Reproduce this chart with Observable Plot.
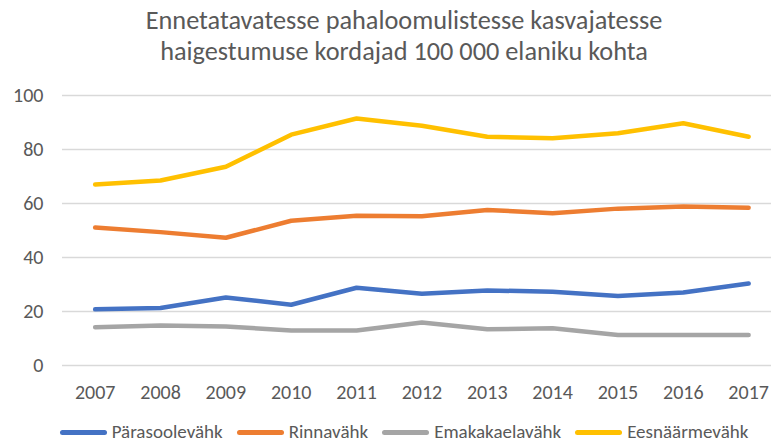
<!DOCTYPE html>
<html>
<head>
<meta charset="utf-8">
<script src="https://cdn.jsdelivr.net/npm/d3@7"></script>
<script src="https://cdn.jsdelivr.net/npm/@observablehq/plot@0.6"></script>
<style>
  html, body { margin: 0; padding: 0; background: #fff; }
  body { width: 771px; height: 445px; overflow: hidden; font-family: Carlito, Calibri, "Liberation Sans Narrow", "Open Sans", sans-serif; color: #595959; }
  #title { box-sizing: border-box; width: 771px; height: 70px; padding: 5px 0 0 37px; text-align: center; font-size: 26.3px; line-height: 31px; }
  #legend { box-sizing: border-box; width: 771px; height: 18px; margin-top: 3px; padding-left: 37px; display: flex; justify-content: center; align-items: center; font-size: 19px; line-height: 18px; }
  .item { display: flex; align-items: center; margin: 0 7px; }
  .sw { width: 47px; height: 5px; border-radius: 3px; margin-right: 5px; }
  svg { display: block; }
</style>
</head>
<body>
<div id="title">Ennetatavatesse pahaloomulistesse kasvajatesse<br>haigestumuse kordajad 100 000 elaniku kohta</div>
<div id="chart"></div>
<div id="legend"></div>
<script>
const years = [2007, 2008, 2009, 2010, 2011, 2012, 2013, 2014, 2015, 2016, 2017];
const parasoolevahk = [20.8, 21.3, 25.2, 22.5, 28.8, 26.6, 27.8, 27.3, 25.7, 27.0, 30.4];
const rinnavahk = [51.1, 49.4, 47.3, 53.6, 55.5, 55.3, 57.6, 56.4, 58.1, 58.9, 58.4];
const emakakaelavahk = [14.2, 14.8, 14.4, 13.0, 13.0, 15.9, 13.4, 13.8, 11.3, 11.3, 11.3];
const eesnaarmevahk = [67.0, 68.5, 73.6, 85.5, 91.5, 88.8, 84.7, 84.2, 86.0, 89.7, 84.7];
const seriesNames = ["Pärasoolevähk", "Rinnavähk", "Emakakaelavähk", "Eesnäärmevähk"];
const seriesColors = ["#4472C4", "#ED7D31", "#A5A5A5", "#FFC000"];
const yTicks = [0, 20, 40, 60, 80, 100];

const seriesValues = [parasoolevahk, rinnavahk, emakakaelavahk, eesnaarmevahk];
const data = [];
seriesNames.forEach((name, i) => {
  years.forEach((yr, j) => data.push({series: name, year: yr, value: seriesValues[i][j]}));
});

const fontFamily = 'Carlito, Calibri, "Liberation Sans Narrow", "Open Sans", sans-serif';

const chart = Plot.plot({
  width: 771,
  height: 350,
  marginTop: 25,
  marginBottom: 55,
  marginLeft: 62,
  marginRight: 0,
  x: {type: "linear", domain: [2006.5, 2017.35]},
  y: {domain: [0, 100]},
  color: {domain: seriesNames, range: seriesColors},
  style: {fontFamily, fontSize: "20px", color: "#595959", background: "#fff"},
  marks: [
    Plot.ruleY(yTicks, {stroke: "#d9d9d9", strokeWidth: 1.3}),
    Plot.axisY({ticks: yTicks, tickSize: 0, tickPadding: 19, label: null, fontSize: 20}),
    Plot.axisX({ticks: years, tickSize: 0, tickPadding: 19, tickFormat: d => String(d), label: null, fontSize: 20}),
    Plot.line(data, {x: "year", y: "value", z: "series", stroke: "series", strokeWidth: 4.5, strokeLinejoin: "round", strokeLinecap: "round"})
  ]
});
document.getElementById("chart").appendChild(chart);

const legend = document.getElementById("legend");
seriesNames.forEach((name, i) => {
  const item = document.createElement("div");
  item.className = "item";
  const sw = document.createElement("div");
  sw.className = "sw";
  sw.style.background = seriesColors[i];
  const lab = document.createElement("span");
  lab.textContent = name;
  item.appendChild(sw);
  item.appendChild(lab);
  legend.appendChild(item);
});
</script>
</body>
</html>
